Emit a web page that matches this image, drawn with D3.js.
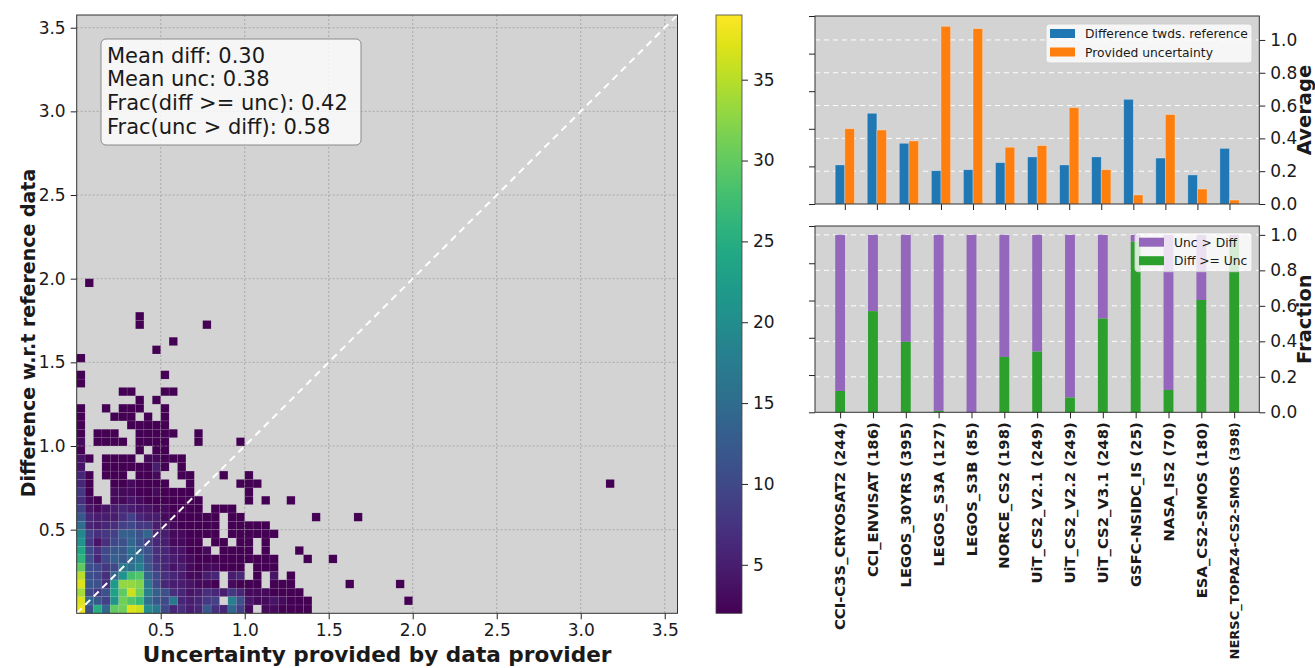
<!DOCTYPE html>
<html lang="en">
<head>
<meta charset="UTF-8">
<title>Difference vs provided uncertainty</title>
<script src="https://cdn.jsdelivr.net/npm/d3@7"></script>
<style>
  body { margin: 0; background: #fff; }
  svg text { font-family: "DejaVu Sans", sans-serif; fill: #1a1a1a; }
</style>
</head>
<body>
<svg id="chart" width="1315" height="668"></svg>
<script>
// ---- data ----
const binSize = 0.05;
// 2d histogram counts, row j = difference bin (j*0.05), column i = uncertainty bin (i*0.05)
const heatCounts = [
  [38,11,25,14,30,31,37,36,20,17,10,6,7,5,6,12,7,6,14,9,3,0,3,3,2,2,2,2,0],
  [37,14,12,9,21,31,29,27,16,12,10,17,6,5,6,8,9,0,18,11,4,3,3,4,3,2,2,2,0],
  [34,10,8,11,23,30,36,31,18,13,11,7,6,4,5,7,6,5,8,6,3,3,3,2,2,2,1,0,0],
  [37,12,11,7,22,33,33,32,17,10,6,5,5,4,3,3,2,0,3,2,2,2,0,2,2,1,0,0,0],
  [35,11,10,7,14,21,28,29,14,10,7,6,5,3,3,5,6,0,5,6,0,2,0,4,0,2,0,0,0],
  [30,11,10,8,10,17,16,18,12,8,6,4,5,3,2,3,3,2,2,2,0,1,1,1,0,0,0,0,0],
  [26,11,6,10,13,12,15,16,11,7,6,5,4,3,2,2,2,1,1,1,1,1,1,1,0,0,0,1,0],
  [24,10,7,10,12,12,16,13,11,7,6,4,4,2,2,3,0,1,1,2,1,0,1,0,0,0,1,0,0],
  [21,8,4,7,10,11,14,11,9,6,5,3,3,2,1,0,1,1,0,1,1,0,1,0,0,0,0,0,0],
  [19,9,7,8,9,13,13,11,14,6,5,3,3,2,1,1,1,0,1,1,1,1,1,1,0,0,0,0,0],
  [15,6,5,6,7,9,10,8,8,5,4,3,2,1,1,1,1,0,1,1,1,1,1,0,0,0,0,0,0],
  [12,6,5,5,5,7,9,6,5,5,3,2,2,1,1,1,1,0,1,1,0,0,0,0,0,0,0,0,1],
  [9,4,3,4,5,6,5,4,4,3,3,2,2,1,1,0,1,1,1,0,0,0,0,0,0,0,0,0,0],
  [7,3,2,0,3,3,4,3,2,2,2,1,1,1,1,0,0,0,0,0,1,0,1,0,0,1,0,0,0],
  [8,2,0,0,3,3,3,2,2,3,2,1,1,1,0,0,0,0,0,0,1,0,0,0,0,0,0,0,0],
  [6,2,0,0,2,2,3,2,2,2,1,0,0,1,0,0,0,0,0,1,1,1,0,0,0,0,0,0,0],
  [6,1,0,2,2,1,0,2,2,3,0,0,1,1,0,0,0,1,0,0,1,0,0,0,0,0,0,0,0],
  [4,0,0,1,1,1,2,1,2,5,1,0,1,0,0,0,0,0,0,0,0,0,0,0,0,0,0,0,0],
  [4,1,0,1,1,2,2,0,3,3,2,1,1,0,0,0,0,0,0,0,0,0,0,0,0,0,0,0,0],
  [2,0,0,0,0,0,0,1,0,1,2,0,0,0,0,0,0,0,0,0,0,0,0,0,0,0,0,0,0],
  [3,0,1,1,1,1,0,2,1,1,1,0,0,0,1,0,0,0,0,1,0,0,0,0,0,0,0,0,0],
  [2,0,1,1,1,0,0,2,2,1,2,1,0,0,1,0,0,0,0,0,0,0,0,0,0,0,0,0,0],
  [1,0,0,0,0,0,1,1,1,1,1,0,0,0,0,0,0,0,0,0,0,0,0,0,0,0,0,0,0],
  [1,0,0,0,1,1,1,0,1,0,1,0,0,0,0,0,0,0,0,0,0,0,0,0,0,0,0,0,0],
  [1,0,0,1,0,1,1,1,0,0,1,0,0,0,0,0,0,0,0,0,0,0,0,0,0,0,0,0,0],
  [0,0,0,0,0,0,0,1,0,1,0,0,0,0,0,0,0,0,0,0,0,0,0,0,0,0,0,0,0],
  [0,0,0,0,0,1,1,0,0,0,1,1,0,0,0,0,0,0,0,0,0,0,0,0,0,0,0,0,0],
  [1,0,0,0,0,0,0,0,0,0,0,0,0,0,0,0,0,0,0,0,0,0,0,0,0,0,0,0,0],
  [1,0,0,0,0,0,0,0,0,0,1,0,0,0,0,0,0,0,0,0,0,0,0,0,0,0,0,0,0],
  [0,0,0,0,0,0,0,0,0,0,0,0,0,0,0,0,0,0,0,0,0,0,0,0,0,0,0,0,0],
  [1,0,0,0,0,0,0,0,0,0,0,0,0,0,0,0,0,0,0,0,0,0,0,0,0,0,0,0,0],
  [0,0,0,0,0,0,0,0,0,1,0,0,0,0,0,0,0,0,0,0,0,0,0,0,0,0,0,0,0],
  [0,0,0,0,0,0,0,0,0,0,0,1,0,0,0,0,0,0,0,0,0,0,0,0,0,0,0,0,0],
  [0,0,0,0,0,0,0,0,0,0,0,0,0,0,0,0,0,0,0,0,0,0,0,0,0,0,0,0,0],
  [0,0,0,0,0,0,0,1,0,0,0,0,0,0,0,1,0,0,0,0,0,0,0,0,0,0,0,0,0],
  [0,0,0,0,0,0,0,1,0,0,0,0,0,0,0,0,0,0,0,0,0,0,0,0,0,0,0,0,0],
  [0,0,0,0,0,0,0,0,0,0,0,0,0,0,0,0,0,0,0,0,0,0,0,0,0,0,0,0,0],
  [0,0,0,0,0,0,0,0,0,0,0,0,0,0,0,0,0,0,0,0,0,0,0,0,0,0,0,0,0],
  [0,0,0,0,0,0,0,0,0,0,0,0,0,0,0,0,0,0,0,0,0,0,0,0,0,0,0,0,0],
  [0,1,0,0,0,0,0,0,0,0,0,0,0,0,0,0,0,0,0,0,0,0,0,0,0,0,0,0,0]
];
// isolated bins outside the grid above: [uncertainty, difference, count]
const heatOutliers = [[1.50,0.30,1],[1.60,0.15,1],[1.65,0.55,1],[1.90,0.15,1],[1.95,0.05,1],[3.15,0.75,1]];
const statLines = ["Mean diff: 0.30", "Mean unc: 0.38", "Frac(diff >= unc): 0.42", "Frac(unc > diff): 0.58"];
const axisTicks = [0.5, 1.0, 1.5, 2.0, 2.5, 3.0, 3.5];
const colorTicks = [5, 10, 15, 20, 25, 30, 35];

const products = ["CCI-C3S_CRYOSAT2 (244)", "CCI_ENVISAT (186)", "LEGOS_30YRS (395)", "LEGOS_S3A (127)",
  "LEGOS_S3B (85)", "NORCE_CS2 (198)", "UiT_CS2_V2.1 (249)", "UiT_CS2_V2.2 (249)", "UiT_CS2_V3.1 (248)",
  "GSFC-NSIDC_IS (25)", "NASA_IS2 (70)", "ESA_CS2-SMOS (180)", "NERSC_TOPAZ4-CS2-SMOS (398)"];
const meanDiff = [0.238, 0.553, 0.370, 0.203, 0.209, 0.252, 0.287, 0.238, 0.287, 0.638, 0.280, 0.177, 0.339];
const meanUnc  = [0.459, 0.451, 0.384, 1.083, 1.069, 0.346, 0.356, 0.587, 0.209, 0.055, 0.545, 0.091, 0.024];
const fracDiffGeUnc = [0.120, 0.570, 0.397, 0.008, 0.0, 0.312, 0.342, 0.083, 0.528, 0.961, 0.126, 0.633, 0.98];
const fracTicks = [0.0, 0.2, 0.4, 0.6, 0.8, 1.0];

// ---- layout ----
const svg = d3.select("#chart");
const grey = "#d3d3d3";
const blue = "#1f77b4", orange = "#ff7f0e", purple = "#9467bd", green = "#2ca02c";
const tickFont = "17px";

function styleAxis(g) {
  g.select(".domain").remove();
  g.selectAll(".tick line").attr("stroke", "#222");
  g.selectAll(".tick text").style("font-size", tickFont).attr("fill", "#1a1a1a");
}

// ===== heatmap =====
const hm = {left: 76.7, right: 677.5, top: 15, bottom: 613.3};
const axMax = 3.576;
const x = d3.scaleLinear().domain([0, axMax]).range([hm.left, hm.right]);
const y = d3.scaleLinear().domain([0, axMax]).range([hm.bottom, hm.top]);
const cmin = 2, cmax = 39;
const color = d3.scaleSequential(d3.interpolateViridis).domain([cmin, cmax]).clamp(true);

svg.append("rect").attr("x", hm.left).attr("y", hm.top)
  .attr("width", hm.right - hm.left).attr("height", hm.bottom - hm.top).attr("fill", grey);

const cells = [];
heatCounts.forEach((row, j) => row.forEach((v, i) => {
  if (v > 0) cells.push({u: i * binSize, d: j * binSize, v: v});
}));
heatOutliers.forEach(o => cells.push({u: o[0], d: o[1], v: o[2]}));

svg.append("g").selectAll("rect").data(cells).join("rect")
  .attr("x", c => x(c.u))
  .attr("y", c => y(c.d + binSize))
  .attr("width", c => x(c.u + binSize) - x(c.u))
  .attr("height", c => y(c.d) - y(c.d + binSize))
  .attr("fill", c => color(c.v))
  .attr("stroke", "rgba(255,255,255,0.13)")
  .attr("stroke-width", 0.6);

// grid
const hgrid = svg.append("g").attr("stroke", "#8c8c8c").attr("stroke-width", 0.8)
  .attr("stroke-dasharray", "2,2").attr("opacity", 0.7);
axisTicks.forEach(t => {
  hgrid.append("line").attr("x1", x(t)).attr("x2", x(t)).attr("y1", hm.top).attr("y2", hm.bottom);
  hgrid.append("line").attr("x1", hm.left).attr("x2", hm.right).attr("y1", y(t)).attr("y2", y(t));
});

// 1:1 line
svg.append("line")
  .attr("x1", x(0)).attr("y1", y(0)).attr("x2", x(axMax)).attr("y2", y(axMax))
  .attr("stroke", "#fff").attr("stroke-width", 2).attr("stroke-dasharray", "7,5");

svg.append("g").attr("transform", `translate(0,${hm.bottom})`)
  .call(d3.axisBottom(x).tickValues(axisTicks).tickFormat(d3.format(".1f")).tickSize(6).tickPadding(5))
  .call(styleAxis);
svg.append("g").attr("transform", `translate(${hm.left},0)`)
  .call(d3.axisLeft(y).tickValues(axisTicks).tickFormat(d3.format(".1f")).tickSize(6).tickPadding(5))
  .call(styleAxis);
svg.append("rect").attr("x", hm.left).attr("y", hm.top)
  .attr("width", hm.right - hm.left).attr("height", hm.bottom - hm.top)
  .attr("fill", "none").attr("stroke", "#333").attr("stroke-width", 1);

svg.append("text").attr("x", (hm.left + hm.right) / 2).attr("y", 662)
  .attr("text-anchor", "middle").style("font-size", "21.6px").style("font-weight", "bold")
  .text("Uncertainty provided by data provider");
svg.append("text").attr("transform", "translate(35,333) rotate(-90)")
  .attr("text-anchor", "middle").style("font-size", "19px").style("font-weight", "bold")
  .text("Difference w.r.t reference data");

// stats box
const box = svg.append("g").attr("transform", "translate(101,39)");
box.append("rect").attr("width", 260).attr("height", 106).attr("rx", 5)
  .attr("fill", "#fff").attr("fill-opacity", 0.8).attr("stroke", "#8a8a8a");
statLines.forEach((s, k) => {
  box.append("text").attr("x", 6).attr("y", 23.5 + k * 23.8).style("font-size", "21px").text(s);
});

// ===== colorbar =====
const cb = {left: 716, right: 742, top: 15, bottom: 613.3};
const cy = d3.scaleLinear().domain([cmin, cmax]).range([cb.bottom, cb.top]);
const defs = svg.append("defs");
const grad = defs.append("linearGradient").attr("id", "cbgrad")
  .attr("x1", 0).attr("y1", 1).attr("x2", 0).attr("y2", 0);
d3.range(0, 1.0001, 0.05).forEach(t => {
  grad.append("stop").attr("offset", t).attr("stop-color", d3.interpolateViridis(t));
});
svg.append("rect").attr("x", cb.left).attr("y", cb.top)
  .attr("width", cb.right - cb.left).attr("height", cb.bottom - cb.top)
  .attr("fill", "url(#cbgrad)").attr("stroke", "#444").attr("stroke-width", 0.8);
svg.append("g").attr("transform", `translate(${cb.right},0)`)
  .call(d3.axisRight(cy).tickValues(colorTicks).tickSize(6).tickPadding(5))
  .call(styleAxis);

// ===== right panels =====
const panelX = {left: 815, right: 1259.3};

function panelFrame(p, yScale, ticks, label) {
  svg.append("rect").attr("x", panelX.left).attr("y", p.top)
    .attr("width", panelX.right - panelX.left).attr("height", p.bottom - p.top).attr("fill", grey);
  const g = svg.append("g").attr("stroke", "#fff").attr("stroke-width", 1).attr("stroke-dasharray", "5,4");
  ticks.filter(t => t > 0).forEach(t => {
    g.append("line").attr("x1", panelX.left).attr("x2", panelX.right).attr("y1", yScale(t)).attr("y2", yScale(t));
  });
  svg.append("text")
    .attr("transform", `translate(1311,${(p.top + p.bottom) / 2}) rotate(-90)`)
    .attr("text-anchor", "middle").style("font-size", "19.5px").style("font-weight", "bold")
    .text(label);
}

function panelAxes(p, xScale, yScale, ticks) {
  svg.append("g").attr("transform", `translate(${panelX.right},0)`)
    .call(d3.axisRight(yScale).tickValues(ticks).tickFormat(d3.format(".1f")).tickSize(6).tickPadding(5))
    .call(styleAxis);
  // unlabeled ticks of the host axis (0..1 over full height)
  const host = d3.scaleLinear().domain([0, 1]).range([p.bottom, p.top]);
  svg.append("g").attr("transform", `translate(${panelX.left},0)`)
    .call(d3.axisLeft(host).tickValues(fracTicks).tickSize(6).tickFormat(""))
    .call(styleAxis);
  svg.append("g").attr("transform", `translate(0,${p.bottom})`)
    .call(d3.axisBottom(xScale).tickValues(d3.range(products.length)).tickSize(6).tickFormat(""))
    .call(styleAxis);
  svg.append("rect").attr("x", panelX.left).attr("y", p.top)
    .attr("width", panelX.right - panelX.left).attr("height", p.bottom - p.top)
    .attr("fill", "none").attr("stroke", "#333").attr("stroke-width", 1);
}

function legend(x0, y0, w, entries) {
  const g = svg.append("g").attr("transform", `translate(${x0},${y0})`);
  g.append("rect").attr("width", w).attr("height", 39).attr("rx", 3)
    .attr("fill", "#fff").attr("fill-opacity", 0.8).attr("stroke", "#cfcfcf");
  entries.forEach((e, k) => {
    g.append("rect").attr("x", 4).attr("y", 5 + k * 18.5).attr("width", 25).attr("height", 9).attr("fill", e[1]);
    g.append("text").attr("x", 39).attr("y", 14 + k * 18.5).style("font-size", "12.3px").text(e[0]);
  });
}

// --- top: averages ---
const pTop = {top: 16, bottom: 204};
const xTop = d3.scaleLinear().domain([-0.93, products.length - 1 + 0.93]).range([panelX.left, panelX.right]);
const yTop = d3.scaleLinear().domain([0, 1.146]).range([pTop.bottom, pTop.top]);
const avgTicks = [0.0, 0.2, 0.4, 0.6, 0.8, 1.0];
panelFrame(pTop, yTop, avgTicks, "Average");
const barW = 0.3;
svg.append("g").selectAll("rect").data(meanDiff).join("rect")
  .attr("x", (d, i) => xTop(i - barW)).attr("width", xTop(barW) - xTop(0))
  .attr("y", d => yTop(d)).attr("height", d => yTop(0) - yTop(d))
  .attr("fill", blue).attr("stroke", "rgba(255,255,255,0.35)").attr("stroke-width", 0.8);
svg.append("g").selectAll("rect").data(meanUnc).join("rect")
  .attr("x", (d, i) => xTop(i)).attr("width", xTop(barW) - xTop(0))
  .attr("y", d => yTop(d)).attr("height", d => yTop(0) - yTop(d))
  .attr("fill", orange).attr("stroke", "rgba(255,255,255,0.35)").attr("stroke-width", 0.8);
panelAxes(pTop, xTop, yTop, avgTicks);
legend(1046, 24, 206, [["Difference twds. reference", blue], ["Provided uncertainty", orange]]);

// --- bottom: fractions ---
const pBot = {top: 226, bottom: 412.3};
const xBot = d3.scaleLinear().domain([-0.765, products.length - 1 + 0.765]).range([panelX.left, panelX.right]);
const yBot = d3.scaleLinear().domain([0, 1.05]).range([pBot.bottom, pBot.top]);
panelFrame(pBot, yBot, fracTicks, "Fraction");
const stack = svg.append("g");
stack.selectAll("rect.unc").data(fracDiffGeUnc).join("rect").attr("class", "unc")
  .attr("x", (d, i) => xBot(i - barW / 2)).attr("width", xBot(barW) - xBot(0))
  .attr("y", yBot(1)).attr("height", d => yBot(d) - yBot(1))
  .attr("fill", purple);
stack.selectAll("rect.diff").data(fracDiffGeUnc).join("rect").attr("class", "diff")
  .attr("x", (d, i) => xBot(i - barW / 2)).attr("width", xBot(barW) - xBot(0))
  .attr("y", d => yBot(d)).attr("height", d => yBot(0) - yBot(d))
  .attr("fill", green);
panelAxes(pBot, xBot, yBot, fracTicks);
legend(1135, 232.7, 117, [["Unc > Diff", purple], ["Diff >= Unc", green]]);

// product labels
svg.append("g").selectAll("text").data(products).join("text")
  .attr("transform", (d, i) => `translate(${xBot(i)},${pBot.bottom + 10}) rotate(-90)`)
  .attr("text-anchor", "end").attr("dy", "0.35em")
  .style("font-size", d => d.length > 24 ? "13px" : "14.8px").style("font-weight", "bold")
  .text(d => d);
</script>
</body>
</html>
